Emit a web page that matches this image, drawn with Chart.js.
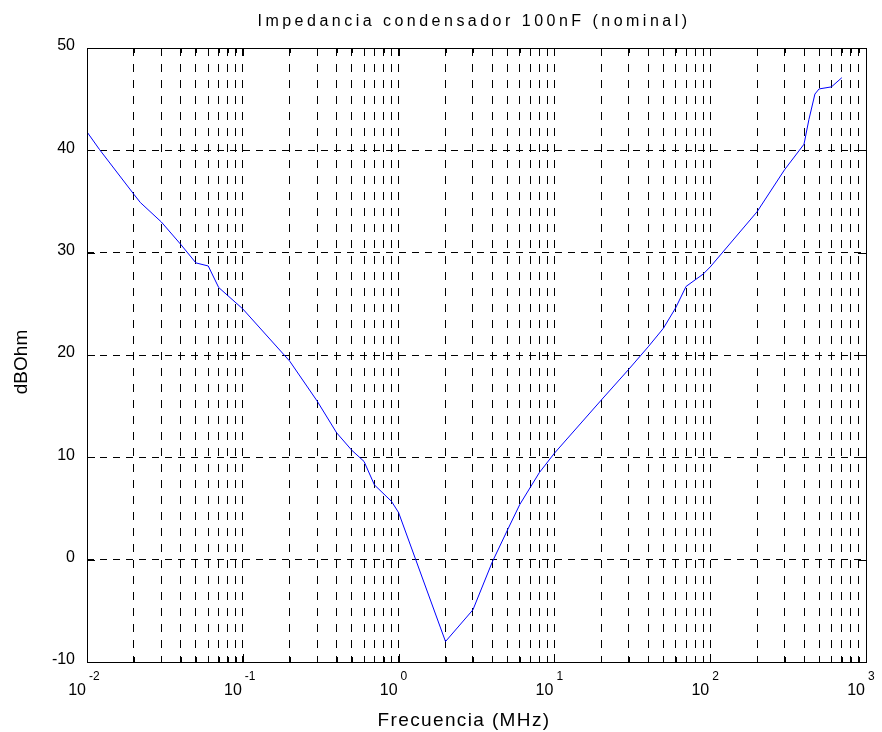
<!DOCTYPE html>
<html>
<head>
<meta charset="utf-8">
<title>Impedancia condensador 100nF</title>
<script src="https://cdn.jsdelivr.net/npm/chart.js@4"></script>
<style>
    html, body { margin: 0; padding: 0; background: #fff; }
    #wrap { width: 882px; height: 732px; }
</style>
</head>
<body>
<div id="wrap"><canvas id="impedanceChart"></canvas></div>
<script>
// Measured impedance of the 100nF capacitor
const freqMHz = [
    0.01, 0.012, 0.02, 0.022, 0.03, 0.04, 0.05, 0.06, 0.07, 0.1,
    0.2, 0.3, 0.4, 0.5, 0.6, 0.7, 0.9, 1, 2, 3,
    4, 5, 6, 8, 10, 20, 30, 40, 50, 60,
    70, 90, 100, 200, 300, 400, 430, 470, 500, 600, 700
];
const impedanceDb = [
    41.8, 40.1, 35.7, 34.9, 33.0, 30.8, 29.0, 28.7, 26.6, 24.5,
    19.4, 15.5, 12.4, 10.7, 9.6, 7.3, 5.7, 4.6, -8.0, -4.9,
    -0.2, 2.9, 5.4, 8.5, 10.4, 15.6, 18.6, 20.8, 22.6, 24.6,
    26.7, 27.9, 28.6, 34.0, 38.1, 40.6, 43.0, 45.5, 46.0, 46.2, 47.1
];
const yTicks = [-10, 0, 10, 20, 30, 40, 50];
const decadeExponents = [-2, -1, 0, 1, 2, 3];

const FONT = '"Liberation Sans", Arial, sans-serif';

function decadeTicks() {
    const ticks = [];
    for (let i = 0; i < decadeExponents.length - 1; i++) {
        const base = Math.pow(10, decadeExponents[i]);
        for (let m = 1; m <= 9; m++) ticks.push({ value: +(m * base).toPrecision(3) });
    }
    ticks.push({ value: Math.pow(10, decadeExponents[decadeExponents.length - 1]) });
    return ticks;
}

function isDecade(v) {
    const e = Math.log10(v);
    return Math.abs(e - Math.round(e)) < 1e-6;
}

// spread a string out so it covers the given width
function fillTextSpread(ctx, text, cx, y, width) {
    ctx.letterSpacing = '0px';
    const w = ctx.measureText(text).width;
    const spacing = Math.max(0, (width - w) / text.length);
    ctx.letterSpacing = spacing + 'px';
    ctx.textAlign = 'left';
    ctx.fillText(text, cx - width / 2, y);
    ctx.letterSpacing = '0px';
}

const frameAndLabels = {
    id: 'frameAndLabels',
    afterDraw(chart) {
        const { ctx, chartArea: a, scales: { x, y } } = chart;
        ctx.save();

        // axes box
        ctx.strokeStyle = '#000';
        ctx.lineWidth = 1;
        ctx.setLineDash([]);
        ctx.strokeRect(Math.round(a.left) + 0.5, Math.round(a.top) + 0.5,
            Math.round(a.right - a.left), Math.round(a.bottom - a.top));

        // inward tick marks
        ctx.beginPath();
        x.ticks.forEach(t => {
            const px = Math.round(x.getPixelForValue(t.value)) + 0.5;
            const len = isDecade(t.value) ? 8 : 5;
            ctx.moveTo(px, a.bottom); ctx.lineTo(px, a.bottom - len);
            ctx.moveTo(px, a.top); ctx.lineTo(px, a.top + len);
        });
        yTicks.forEach(v => {
            const py = Math.round(y.getPixelForValue(v)) + 0.5;
            ctx.moveTo(a.left, py); ctx.lineTo(a.left + 8, py);
            ctx.moveTo(a.right, py); ctx.lineTo(a.right - 8, py);
        });
        ctx.stroke();

        ctx.fillStyle = '#000';

        // y tick labels
        ctx.font = '16px ' + FONT;
        ctx.textAlign = 'right';
        ctx.textBaseline = 'middle';
        yTicks.forEach(v => {
            ctx.fillText(String(v), a.left - 12, y.getPixelForValue(v) - 2);
        });

        // x tick labels as powers of ten
        ctx.textBaseline = 'alphabetic';
        decadeExponents.forEach(e => {
            const px = x.getPixelForValue(Math.pow(10, e));
            ctx.font = '16px ' + FONT;
            ctx.textAlign = 'right';
            ctx.fillText('10', px - 1, a.bottom + 33);
            ctx.font = '12px ' + FONT;
            ctx.textAlign = 'left';
            ctx.fillText(String(e), px + 2, a.bottom + 18);
        });

        // title
        ctx.font = '16px ' + FONT;
        fillTextSpread(ctx, 'Impedancia condensador 100nF (nominal)', 474, 26, 433);

        // axis titles
        ctx.font = '19px ' + FONT;
        fillTextSpread(ctx, 'Frecuencia (MHz)', 464, 726, 173);

        ctx.textAlign = 'center';
        ctx.translate(27, 362);
        ctx.rotate(-Math.PI / 2);
        ctx.fillText('dBOhm', 0, 0);

        ctx.restore();
    }
};

new Chart(document.getElementById('impedanceChart'), {
    type: 'scatter',
    data: {
        datasets: [{
            label: 'Impedancia',
            data: freqMHz.map((f, i) => ({ x: f, y: impedanceDb[i] })),
            showLine: true,
            borderColor: '#0000ff',
            borderWidth: 1,
            pointRadius: 0,
            tension: 0
        }]
    },
    options: {
        responsive: true,
        maintainAspectRatio: false,
        animation: false,
        events: [],
        layout: {
            padding: { top: 48, right: 16, bottom: 0, left: 0 }
        },
        plugins: {
            legend: { display: false },
            tooltip: { enabled: false }
        },
        scales: {
            x: {
                type: 'logarithmic',
                min: 0.01,
                max: 1000,
                afterBuildTicks: scale => { scale.ticks = decadeTicks(); },
                afterFit: scale => { scale.height = 70; },
                ticks: { display: false },
                grid: { color: '#000', lineWidth: 1, drawTicks: false },
                border: { display: false, dash: [8, 8] }
            },
            y: {
                type: 'linear',
                min: -10,
                max: 50,
                afterBuildTicks: scale => { scale.ticks = yTicks.map(v => ({ value: v })); },
                afterFit: scale => { scale.width = 87; },
                ticks: { display: false },
                grid: { color: '#000', lineWidth: 1, drawTicks: false },
                border: { display: false, dash: [7, 6] }
            }
        }
    },
    plugins: [frameAndLabels]
});
</script>
</body>
</html>
